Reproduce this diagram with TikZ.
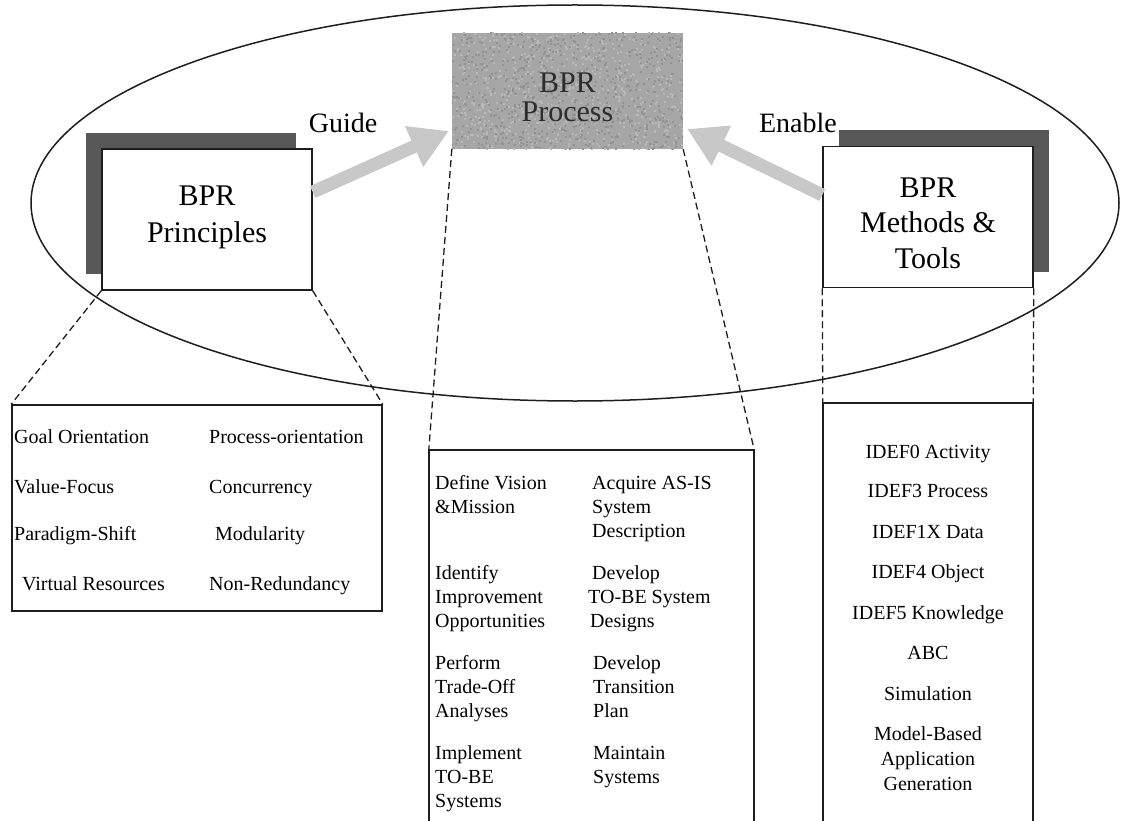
\documentclass[tikz,border=0pt]{standalone}
\usepackage{fontspec}
\setmainfont{Liberation Serif}
\usetikzlibrary{arrows.meta}
\definecolor{shadowgray}{RGB}{88,88,88}
\definecolor{procgray}{RGB}{166,166,166}
\definecolor{specklight}{RGB}{184,184,184}
\definecolor{speckdark}{RGB}{146,146,146}
\definecolor{arrowgray}{RGB}{200,200,200}
\definecolor{inkgray}{RGB}{45,45,45}
\definecolor{rulegray}{RGB}{30,30,30}

\begin{document}
\begin{tikzpicture}[x=1pt,y=-1pt,
  card/.style={rectangle, draw=rulegray, line width=1.5pt, fill=white,
    minimum width=210pt, minimum height=141pt, inner sep=0pt},
  cardshadow/.style={rectangle, fill=shadowgray,
    minimum width=210pt, minimum height=141pt, inner sep=0pt},
  bigtext/.style={align=center, anchor=north, inner sep=0pt, text=black},
  flowlabel/.style={font=\fontsize{28}{32}\selectfont, anchor=base, inner sep=0pt},
  entry/.style={font=\fontsize{20}{24}\selectfont, anchor=base west, inner sep=0pt},
  stepentry/.style={font=\fontsize{20}{24}\selectfont, align=left, anchor=north west, inner sep=0pt},
  toolentry/.style={font=\fontsize{20}{25}\selectfont, align=center, anchor=base, inner sep=0pt},
  flowarrow/.style={draw=arrowgray, line width=13pt, -{Triangle[length=38pt,width=42pt]}},
  zoomline/.style={draw=rulegray, line width=1.3pt, dash pattern=on 7pt off 4pt},
  listbox/.style={draw=rulegray, line width=1.5pt},
]
\useasboundingbox (0,0) rectangle (1124,821);

% enclosing ellipse
\draw[line width=1.5pt, rulegray] (575,203) ellipse [x radius=544pt, y radius=198pt];

% BPR Principles card with its shadow
\node[cardshadow] (princShadow) at (191,203.5) {};
\node[card] (princ) at (207,219.5) {};
\node[bigtext, font=\fontsize{30}{37}\selectfont] (princText) at (207,179) {\strut BPR\\Principles};

% BPR Methods & Tools card with its shadow
\node[cardshadow] (methShadow) at (944,201) {};
\node[card] (meth) at (928,217) {};
\node[bigtext, font=\fontsize{30}{35.5}\selectfont] (methText) at (928,172) {\strut BPR\\Methods \&\\Tools};

% BPR Process box with a grainy fill
\node[rectangle, fill=procgray, minimum width=231pt, minimum height=116pt, inner sep=0pt] (proc) at (567.5,91) {};
\begin{scope}
  \clip (proc.south west) rectangle (proc.north east);
  \pgfmathsetseed{7}
  \foreach \i in {1,...,700}{
    \pgfmathsetmacro{\sx}{450+233*rnd}
    \pgfmathsetmacro{\sy}{31+118*rnd}
    \fill[specklight] (\sx,\sy) rectangle ++(2,2);
  }
  \foreach \i in {1,...,700}{
    \pgfmathsetmacro{\sx}{450+233*rnd}
    \pgfmathsetmacro{\sy}{31+118*rnd}
    \fill[speckdark] (\sx,\sy) rectangle ++(2,2);
  }
\end{scope}
\node[bigtext, font=\fontsize{30}{29}\selectfont, text=inkgray] (procText) at (567.5,71.7) {\strut BPR\\Process};

% Guide / Enable arrows
\coordinate (guideTail) at ([yshift=27.5pt]princ.east);
\coordinate (guideTip) at ([xshift=-3pt,yshift=-40pt]proc.west);
\coordinate (enableTail) at ([yshift=22pt]meth.west);
\coordinate (enableTip) at ([xshift=4pt,yshift=-38pt]proc.east);
\draw[flowarrow] (guideTail) -- (guideTip);
\draw[flowarrow] (enableTail) -- (enableTip);
\node[flowlabel] (guide) at (343,133) {Guide};
\node[flowlabel] (enable) at (798,133) {Enable};

% detail boxes
\node[rectangle, listbox, minimum width=370pt, minimum height=206pt, inner sep=0pt] (goals) at (197,508) {};
\node[rectangle, minimum width=325pt, minimum height=371pt, inner sep=0pt] (steps) at (591.5,635.5) {};
\draw[listbox] (steps.south west) -- (steps.north west) -- (steps.north east) -- (steps.south east);
\node[rectangle, minimum width=210pt, minimum height=418pt, inner sep=0pt] (tools) at (928,612) {};
\draw[listbox] (tools.south west) -- (tools.north west) -- (tools.north east) -- (tools.south east);

% dashed zoom lines
\draw[zoomline] (princ.south west) -- (goals.north west);
\draw[zoomline] (princ.south east) -- (goals.north east);
\draw[zoomline] (proc.south west) -- (steps.north west);
\draw[zoomline] (proc.south east) -- (steps.north east);
\draw[zoomline] (meth.south west) -- (tools.north west);
\draw[zoomline] (meth.south east) -- (tools.north east);

% principles
\node[entry] (p1) at (14,443) {Goal Orientation};
\node[entry] (p2) at (14,493) {Value-Focus};
\node[entry] (p3) at (14,540) {Paradigm-Shift};
\node[entry] (p4) at (22,590) {Virtual Resources};
\node[entry] (p5) at (209,443) {Process-orientation};
\node[entry] (p6) at (209,493) {Concurrency};
\node[entry] (p7) at (215,540) {Modularity};
\node[entry] (p8) at (209,590) {Non-Redundancy};

% process steps
\node[stepentry] (s1) at (435,472.2) {\strut Define Vision\\\&Mission};
\node[stepentry] (s2) at (435,562.2) {\strut Identify\\Improvement\\Opportunities};
\node[stepentry] (s3) at (435,652.2) {\strut Perform\\Trade-Off\\Analyses};
\node[stepentry] (s4) at (435,742.2) {\strut Implement\\TO-BE\\Systems};
\node[stepentry] (s5) at (592,472.2) {\strut Acquire AS-IS\\System\\Description};
\node[stepentry] (s6) at (588,562.2) {\strut\hspace*{4pt}Develop\\TO-BE System\\\hspace*{2pt}Designs};
\node[stepentry] (s7) at (593,652.2) {\strut Develop\\Transition\\Plan};
\node[stepentry] (s8) at (593,742.2) {\strut Maintain\\Systems};

% methods and tools
\node[toolentry] (t1) at (928,458) {IDEF0 Activity};
\node[toolentry] (t2) at (928,497.5) {IDEF3 Process};
\node[toolentry] (t3) at (928,538) {IDEF1X Data};
\node[toolentry] (t4) at (928,578.5) {IDEF4 Object};
\node[toolentry] (t5) at (928,619) {IDEF5 Knowledge};
\node[toolentry] (t6) at (928,659.5) {ABC};
\node[toolentry] (t7) at (928,700) {Simulation};
\node[toolentry] (t8) at (928,740.5) {Model-Based};
\node[toolentry] (t9) at (928,765.5) {Application};
\node[toolentry] (t10) at (928,790.5) {Generation};
\end{tikzpicture}
\end{document}
